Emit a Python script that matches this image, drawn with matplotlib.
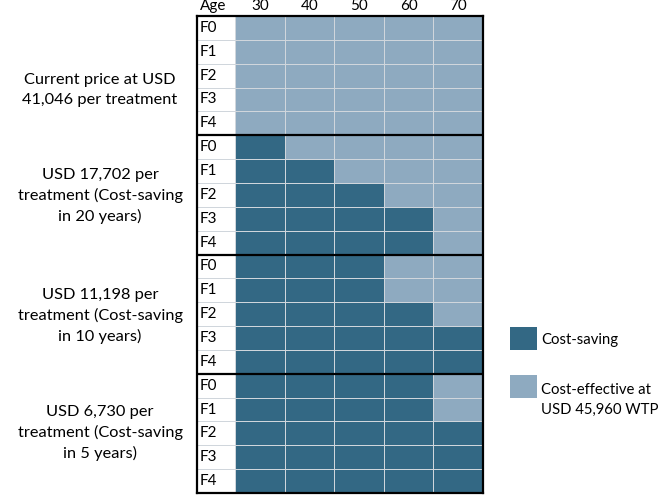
import numpy as np
import matplotlib.pyplot as plt
from matplotlib.colors import ListedColormap
from matplotlib.patches import Rectangle

plt.rcParams['font.family'] = ['Lato', 'DejaVu Sans']

ages = [30, 40, 50, 60, 70]
stages = ['F0', 'F1', 'F2', 'F3', 'F4']
scenarios = ['Current price at USD\n41,046 per treatment',
             'USD 17,702 per\ntreatment (Cost-saving\nin 20 years)',
             'USD 11,198 per\ntreatment (Cost-saving\nin 10 years)',
             'USD 6,730 per\ntreatment (Cost-saving\nin 5 years)']

# 1 = cost-saving, 0 = cost-effective at WTP
current_price = [[0, 0, 0, 0, 0],
                 [0, 0, 0, 0, 0],
                 [0, 0, 0, 0, 0],
                 [0, 0, 0, 0, 0],
                 [0, 0, 0, 0, 0]]
saving_20y = [[1, 0, 0, 0, 0],
              [1, 1, 0, 0, 0],
              [1, 1, 1, 0, 0],
              [1, 1, 1, 1, 0],
              [1, 1, 1, 1, 0]]
saving_10y = [[1, 1, 1, 0, 0],
              [1, 1, 1, 0, 0],
              [1, 1, 1, 1, 0],
              [1, 1, 1, 1, 1],
              [1, 1, 1, 1, 1]]
saving_5y = [[1, 1, 1, 1, 0],
             [1, 1, 1, 1, 0],
             [1, 1, 1, 1, 1],
             [1, 1, 1, 1, 1],
             [1, 1, 1, 1, 1]]

legend_labels = ['Cost-saving', 'Cost-effective at\nUSD 45,960 WTP']

dark = '#336884'
light = '#8eaac0'
grid = '#d0d6dc'
fs = 11

W, H = 663, 496


def fx(px):
    return px / W


def fy(py):
    return 1 - py / H


grid_vals = np.array(current_price + saving_20y + saving_10y + saving_5y)
nrows = grid_vals.shape[0]
lab_w = 0.77

fig = plt.figure(figsize=(6.63, 4.96), dpi=100)
ax = fig.add_axes([fx(197), fy(493), fx(483 - 197), (493 - 16) / H])

ax.pcolormesh(np.arange(6), np.arange(nrows + 1), grid_vals,
              cmap=ListedColormap([light, dark]), vmin=0, vmax=1,
              edgecolors=grid, linewidth=0.6)
ax.pcolormesh([-lab_w, 0], np.arange(nrows + 1), np.zeros((nrows, 1)),
              cmap=ListedColormap(['white']), edgecolors=grid, linewidth=0.6)

for i in range(nrows):
    ax.text(-lab_w + 0.05, i + 0.5, stages[i % 5], va='center', ha='left',
            fontsize=fs)
for k in range(1, 4):
    ax.axhline(5 * k, color='black', lw=1.6)

ax.set_xlim(-lab_w, 5)
ax.set_ylim(nrows, 0)
ax.set_yticks([])
ax.xaxis.tick_top()
ax.set_xticks([-lab_w / 2 - 0.05] + [i + 0.5 for i in range(5)])
ax.set_xticklabels(['Age'] + [str(a) for a in ages], fontsize=fs)
ax.tick_params(axis='x', length=0, pad=2)
for s in ax.spines.values():
    s.set_linewidth(1.6)
    s.set_color('black')

# scenario labels (first one sits lower in its block)
label_y = [90, 196, 316, 433]
for lab, yc in zip(scenarios, label_y):
    fig.text(fx(100), fy(yc), lab, ha='center', va='center', fontsize=11.8,
             linespacing=1.5)

# legend
for col, lab, top, ty in zip([dark, light], legend_labels, [327, 375],
                             [340, 400]):
    fig.add_artist(Rectangle((fx(510), fy(top + 23)), fx(27), 23 / H,
                             facecolor=col, edgecolor='none',
                             transform=fig.transFigure))
    fig.text(fx(541), fy(ty), lab, ha='left', va='center',
             fontsize=10.7, linespacing=1.55)

fig.savefig('out.png', dpi=100)
